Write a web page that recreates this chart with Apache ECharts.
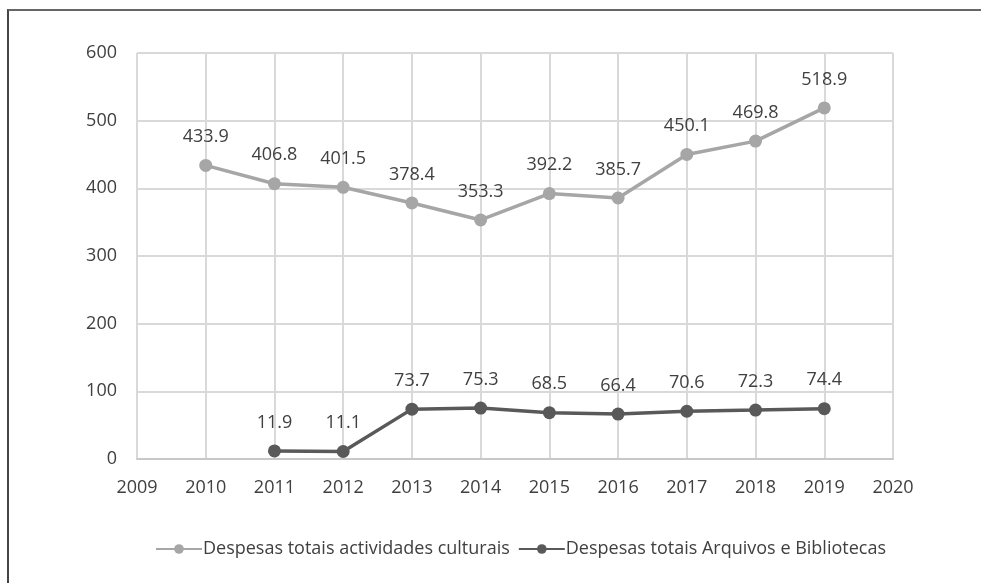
<!DOCTYPE html>
<html>
<head>
<meta charset="utf-8">
<script src="https://cdn.jsdelivr.net/npm/echarts@6/dist/echarts.min.js"></script>
<style>
html, body { margin: 0; padding: 0; background: #fff; }
#frame { position: absolute; left: 7px; top: 9px; width: 974px; height: 574px;
  border-top: 2px solid #666; border-left: 2px solid #444; }
#chart { position: absolute; left: 0; top: 0; width: 981px; height: 583px; }
</style>
</head>
<body>
<div id="frame"></div>
<div id="chart"></div>
<script>
// anos e valores
var anosCulturais = [2010, 2011, 2012, 2013, 2014, 2015, 2016, 2017, 2018, 2019];
var despesasCulturais = [433.9, 406.8, 401.5, 378.4, 353.3, 392.2, 385.7, 450.1, 469.8, 518.9];
var anosBibliotecas = [2011, 2012, 2013, 2014, 2015, 2016, 2017, 2018, 2019];
var despesasBibliotecas = [11.9, 11.1, 73.7, 75.3, 68.5, 66.4, 70.6, 72.3, 74.4];
var nomes = ['Despesas totais actividades culturais', 'Despesas totais Arquivos e Bibliotecas'];

function pares(xs, ys) {
  return xs.map(function (x, i) { return [x, ys[i]]; });
}

var fonte = '"Open Sans", sans-serif';
var myChart = echarts.init(document.getElementById('chart'));
var option = {
  animation: false,
  textStyle: { fontFamily: fonte },
  grid: { left: 137, right: 88, top: 53, bottom: 124 },
  xAxis: {
    type: 'value',
    min: 2009,
    max: 2020,
    interval: 1,
    axisLine: { show: true, lineStyle: { color: '#c8c8c8', width: 2 } },
    axisTick: { show: false },
    axisLabel: { color: '#404040', fontSize: 18, margin: 20, fontFamily: fonte,
      formatter: function (v) { return String(v); } },
    splitLine: { show: true, lineStyle: { color: '#d9d9d9', width: 2 } }
  },
  yAxis: {
    type: 'value',
    min: 0,
    max: 600,
    interval: 100,
    axisLine: { show: false },
    axisTick: { show: false },
    axisLabel: { color: '#404040', fontSize: 18, margin: 20, fontFamily: fonte },
    splitLine: { show: true, lineStyle: { color: '#d9d9d9', width: 2 } }
  },
  legend: {
    top: 535,
    left: 150,
    itemWidth: 46,
    itemHeight: 12,
    itemGap: 8,
    textStyle: { color: '#404040', fontSize: 18, fontFamily: fonte, padding: [0, 0, 0, -4] },
    data: nomes
  },
  series: [
    {
      name: nomes[0],
      type: 'line',
      data: pares(anosCulturais, despesasCulturais),
      symbol: 'circle',
      symbolSize: 13,
      lineStyle: { color: '#a6a6a6', width: 3.5 },
      itemStyle: { color: '#a6a6a6' },
      label: { show: true, position: 'top', distance: 13, color: '#404040', fontSize: 18, fontFamily: fonte,
        formatter: function (p) { return p.value[1].toFixed(1); } }
    },
    {
      name: nomes[1],
      type: 'line',
      data: pares(anosBibliotecas, despesasBibliotecas),
      symbol: 'circle',
      symbolSize: 13,
      lineStyle: { color: '#595959', width: 3.5 },
      itemStyle: { color: '#595959' },
      label: { show: true, position: 'top', distance: 13, color: '#404040', fontSize: 18, fontFamily: fonte,
        formatter: function (p) { return p.value[1].toFixed(1); } }
    }
  ]
};
myChart.setOption(option);
</script>
</body>
</html>
